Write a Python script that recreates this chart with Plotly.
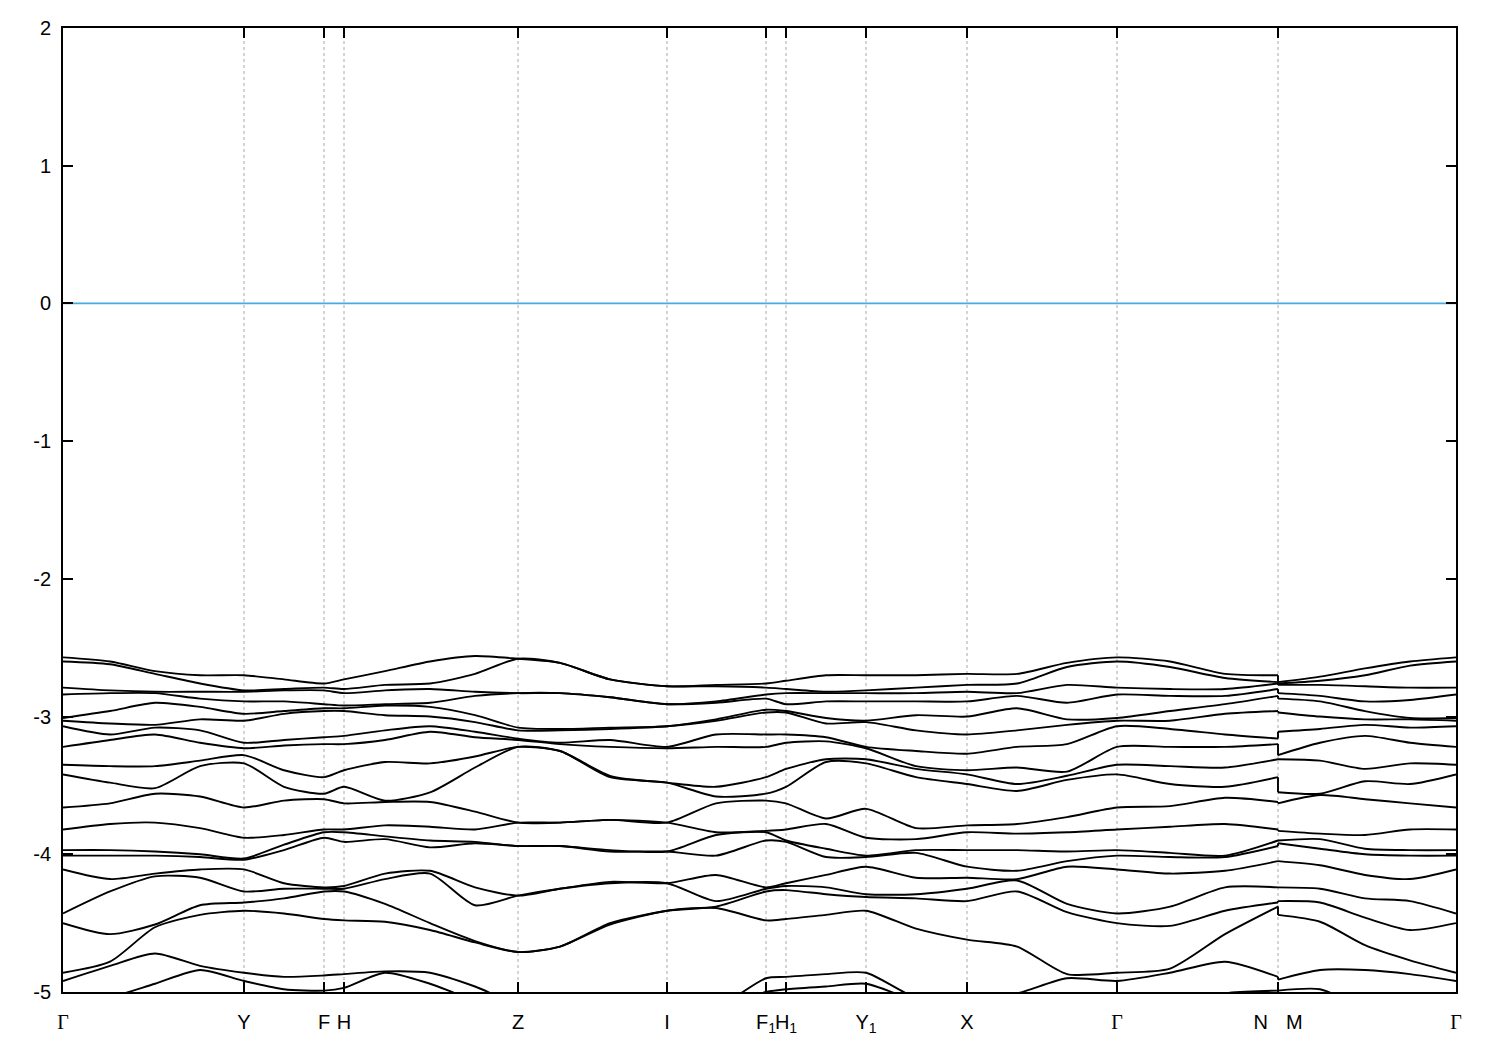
import plotly.graph_objects as go

# k-path sample positions (arbitrary units along the path)
k_path = [0.000, 0.047, 0.092, 0.137, 0.181, 0.221, 0.261, 0.281, 0.322, 0.367,
          0.412, 0.455, 0.497, 0.547, 0.604, 0.653, 0.703, 0.723, 0.763, 0.803,
          0.853, 0.904, 0.954, 1.004, 1.054, 1.107, 1.162, 1.215, 1.215, 1.257,
          1.302, 1.347, 1.393]
break_index = 27  # N | M discontinuity (samples 27 and 28 share the same k)

# high-symmetry labels
sym_k = [0.000, 0.181, 0.261, 0.281, 0.455, 0.604, 0.703, 0.723, 0.803, 0.904, 1.054, 1.215, 1.393]
sym_labels = ["Γ", "Y", "F", "H", "Z", "I", "F<sub>1</sub>", "H<sub>1</sub>",
              "Y<sub>1</sub>", "X", "Γ", "N\u2002\u2009\u2009M", "Γ"]

# band energies (eV) at each k sample, ordered from highest to lowest
e_gamma = [-2.57, -2.60, -2.79, -2.84, -3.01, -3.03, -3.07, -3.22, -3.35, -3.42, -3.66,
           -3.82, -3.97, -4.01, -4.11, -4.43, -4.50, -4.86, -4.92, -5.11, -5.13]
e_01 = [-2.60, -2.62, -2.81, -2.83, -2.96, -3.05, -3.13, -3.17, -3.36, -3.48, -3.63,
        -3.78, -3.97, -4.01, -4.18, -4.27, -4.58, -4.78, -4.81, -5.04, -5.11]
e_02 = [-2.67, -2.69, -2.82, -2.83, -2.90, -3.06, -3.08, -3.13, -3.36, -3.52, -3.56,
        -3.77, -3.98, -4.01, -4.14, -4.16, -4.51, -4.53, -4.72, -4.94, -5.11]
e_03 = [-2.70, -2.76, -2.82, -2.87, -2.93, -3.02, -3.10, -3.19, -3.32, -3.36, -3.58,
        -3.81, -4.00, -4.02, -4.11, -4.17, -4.37, -4.44, -4.81, -4.84, -5.11]
e_Y = [-2.70, -2.81, -2.82, -2.89, -2.98, -3.03, -3.19, -3.23, -3.28, -3.34, -3.66,
       -3.88, -4.03, -4.04, -4.11, -4.27, -4.35, -4.41, -4.86, -4.92, -5.11]
e_05 = [-2.73, -2.80, -2.81, -2.89, -2.96, -2.98, -3.17, -3.21, -3.39, -3.51, -3.61,
        -3.86, -3.93, -3.97, -4.21, -4.25, -4.32, -4.43, -4.89, -4.98, -5.11]
e_F = [-2.76, -2.79, -2.81, -2.91, -2.94, -2.96, -3.15, -3.20, -3.44, -3.56, -3.60,
       -3.82, -3.84, -3.88, -4.24, -4.25, -4.27, -4.47, -4.88, -4.99, -5.11]
e_H = [-2.73, -2.80, -2.83, -2.92, -2.94, -2.96, -3.14, -3.20, -3.39, -3.51, -3.63,
       -3.82, -3.84, -3.91, -4.23, -4.25, -4.27, -4.48, -4.87, -4.97, -5.11]
e_08 = [-2.67, -2.77, -2.81, -2.91, -2.92, -2.99, -3.10, -3.17, -3.33, -3.61, -3.62,
        -3.79, -3.87, -3.89, -4.14, -4.18, -4.36, -4.49, -4.85, -4.86, -5.11]
e_09 = [-2.60, -2.76, -2.80, -2.90, -2.93, -3.00, -3.07, -3.11, -3.34, -3.55, -3.62,
        -3.80, -3.90, -3.95, -4.12, -4.14, -4.50, -4.55, -4.86, -4.94, -5.11]
e_10 = [-2.56, -2.69, -2.82, -2.85, -2.99, -3.04, -3.11, -3.15, -3.29, -3.37, -3.69,
        -3.82, -3.91, -3.92, -4.24, -4.37, -4.63, -4.64, -4.96, -5.06, -5.11]
e_Z = [-2.58, -2.58, -2.83, -2.83, -3.08, -3.10, -3.16, -3.17, -3.22, -3.22, -3.77,
       -3.77, -3.94, -3.94, -4.30, -4.30, -4.71, -4.71, -5.09, -5.10, -5.11]
e_12 = [-2.61, -2.61, -2.83, -2.83, -3.09, -3.10, -3.19, -3.20, -3.25, -3.25, -3.77,
        -3.77, -3.94, -3.94, -4.25, -4.25, -4.67, -4.67, -5.11, -5.11, -5.13]
e_13 = [-2.73, -2.73, -2.86, -2.86, -3.08, -3.09, -3.17, -3.22, -3.43, -3.44, -3.75,
        -3.75, -3.97, -3.98, -4.20, -4.21, -4.50, -4.51, -5.11, -5.11, -5.13]
e_I = [-2.78, -2.78, -2.91, -2.91, -3.07, -3.07, -3.22, -3.23, -3.48, -3.48, -3.77,
       -3.77, -3.98, -3.98, -4.21, -4.21, -4.41, -4.41, -5.11, -5.11, -5.13]
e_15 = [-2.77, -2.78, -2.89, -2.90, -3.02, -3.03, -3.13, -3.22, -3.51, -3.58, -3.63,
        -3.84, -3.86, -4.01, -4.15, -4.34, -4.38, -4.39, -5.11, -5.11, -5.13]
e_F1 = [-2.76, -2.79, -2.84, -2.87, -2.95, -2.97, -3.13, -3.22, -3.44, -3.56, -3.61,
        -3.83, -3.84, -3.90, -4.24, -4.25, -4.27, -4.48, -4.90, -5.00, -5.11]
e_H1 = [-2.74, -2.80, -2.83, -2.91, -2.96, -2.97, -3.13, -3.19, -3.38, -3.51, -3.63,
        -3.82, -3.90, -3.91, -4.21, -4.23, -4.26, -4.47, -4.89, -4.98, -5.11]
e_18 = [-2.70, -2.82, -2.83, -2.89, -3.01, -3.05, -3.15, -3.18, -3.31, -3.33, -3.74,
        -3.78, -3.96, -4.02, -4.15, -4.24, -4.29, -4.44, -4.87, -4.96, -5.11]
e_Y1 = [-2.70, -2.81, -2.83, -2.89, -3.03, -3.04, -3.22, -3.23, -3.31, -3.34, -3.67,
        -3.88, -4.01, -4.02, -4.09, -4.29, -4.31, -4.41, -4.86, -4.94, -5.11]
e_20 = [-2.70, -2.79, -2.83, -2.89, -2.99, -3.10, -3.25, -3.36, -3.38, -3.44, -3.81,
        -3.89, -3.97, -3.99, -4.17, -4.29, -4.32, -4.54, -5.04, -5.06, -5.11]
e_X = [-2.69, -2.77, -2.82, -2.89, -3.00, -3.13, -3.27, -3.39, -3.42, -3.49, -3.79,
       -3.84, -3.97, -4.09, -4.17, -4.25, -4.34, -4.62, -5.06, -5.08, -5.11]
e_22 = [-2.69, -2.76, -2.83, -2.85, -2.94, -3.10, -3.22, -3.37, -3.49, -3.54, -3.78,
        -3.85, -3.97, -4.12, -4.18, -4.19, -4.27, -4.67, -5.01, -5.11, -5.12]
e_23 = [-2.61, -2.64, -2.77, -2.90, -3.02, -3.06, -3.20, -3.40, -3.43, -3.46, -3.73,
        -3.84, -3.98, -4.05, -4.09, -4.36, -4.42, -4.87, -4.90, -5.11, -5.12]
e_25 = [-2.60, -2.64, -2.80, -2.85, -2.96, -3.03, -3.09, -3.22, -3.36, -3.49, -3.65,
        -3.80, -3.99, -4.02, -4.14, -4.38, -4.52, -4.83, -4.86, -5.11, -5.12]
e_26 = [-2.69, -2.72, -2.80, -2.85, -2.91, -2.98, -3.13, -3.22, -3.37, -3.51, -3.59,
        -3.78, -4.01, -4.02, -4.12, -4.24, -4.41, -4.58, -4.78, -5.01, -5.11]
e_N = [-2.70, -2.75, -2.76, -2.80, -2.85, -2.96, -3.16, -3.20, -3.31, -3.44, -3.62,
       -3.82, -3.90, -3.94, -4.05, -4.24, -4.35, -4.38, -4.89, -4.99, -5.11]
e_M = [-2.75, -2.76, -2.77, -2.83, -2.87, -2.97, -3.11, -3.28, -3.31, -3.55, -3.63,
       -3.83, -3.90, -3.92, -4.05, -4.24, -4.34, -4.44, -4.91, -4.99, -5.11]
e_29 = [-2.71, -2.74, -2.77, -2.85, -2.89, -3.00, -3.09, -3.19, -3.32, -3.56, -3.57,
        -3.85, -3.89, -3.96, -4.08, -4.25, -4.35, -4.49, -4.84, -4.98, -5.11]
e_30 = [-2.65, -2.70, -2.78, -2.89, -2.96, -3.02, -3.06, -3.14, -3.38, -3.47, -3.60,
        -3.86, -3.96, -4.00, -4.15, -4.32, -4.46, -4.66, -4.84, -5.11, -5.12]
e_31 = [-2.60, -2.63, -2.79, -2.88, -3.01, -3.02, -3.08, -3.19, -3.34, -3.49, -3.63,
        -3.82, -3.97, -4.01, -4.18, -4.34, -4.55, -4.77, -4.87, -5.11, -5.12]

energy_columns = [e_gamma, e_01, e_02, e_03, e_Y, e_05, e_F, e_H, e_08, e_09, e_10,
                  e_Z, e_12, e_13, e_I, e_15, e_F1, e_H1, e_18, e_Y1, e_20, e_X,
                  e_22, e_23, e_gamma, e_25, e_26, e_N, e_M, e_29, e_30, e_31, e_gamma]

fermi_level = 0.0
y_ticks = [2, 1, 0, -1, -2, -3, -4, -5]

n_bands = len(e_gamma)
fig = go.Figure()

line_style = dict(color="black", width=1.9)
for b in range(n_bands):
    band = [col[b] for col in energy_columns]
    # segment before the discontinuity
    fig.add_trace(go.Scatter(x=k_path[:break_index + 1], y=band[:break_index + 1],
                             mode="lines", line=dict(shape="spline", smoothing=0.7, **line_style),
                             hoverinfo="skip", showlegend=False))
    # vertical connector at N|M
    fig.add_trace(go.Scatter(x=k_path[break_index:break_index + 2],
                             y=band[break_index:break_index + 2],
                             mode="lines", line=line_style, hoverinfo="skip", showlegend=False))
    # segment after the discontinuity
    fig.add_trace(go.Scatter(x=k_path[break_index + 1:], y=band[break_index + 1:],
                             mode="lines", line=dict(shape="spline", smoothing=0.7, **line_style),
                             hoverinfo="skip", showlegend=False))

# Fermi level
fig.add_trace(go.Scatter(x=[k_path[0], k_path[-1]], y=[fermi_level, fermi_level],
                         mode="lines", line=dict(color="#45abe0", width=1.8),
                         hoverinfo="skip", showlegend=False))

# vertical dashed lines at high-symmetry points (interior ones)
for kv in sym_k[1:-1]:
    fig.add_shape(type="line", x0=kv, x1=kv, y0=0, y1=1, xref="x", yref="paper",
                  line=dict(color="#a8a8a8", width=1, dash="3px,3px"), layer="below")

ticktext = []
for lab in sym_labels:
    if lab == "Γ":
        ticktext.append('<span style="font-family:\'Liberation Serif\', serif">Γ</span>')
    else:
        ticktext.append(lab)

fig.update_layout(
    width=1484, height=1034,
    margin=dict(l=55, r=36, t=20, b=50),
    paper_bgcolor="white", plot_bgcolor="white",
    font=dict(family="Liberation Sans, Arial, sans-serif", size=20, color="black"),
    showlegend=False,
)
fig.update_xaxes(
    range=[k_path[0], k_path[-1]], tickmode="array", tickvals=sym_k, ticktext=ticktext,
    tickangle=0, ticks="inside", ticklen=10, tickwidth=1.5, tickcolor="black",
    showline=True, linecolor="black", linewidth=1.8, mirror="ticks",
    showgrid=False, zeroline=False, ticklabelstandoff=11, automargin=False,
)
fig.update_yaxes(
    range=[-5, 2], tickmode="array", tickvals=y_ticks, ticktext=[str(v) for v in y_ticks],
    ticks="inside", ticklen=10, tickwidth=1.5, tickcolor="black",
    showline=True, linecolor="black", linewidth=1.8, mirror="ticks",
    showgrid=False, zeroline=False, ticklabelstandoff=6, automargin=False,
)

fig.write_html("out.html")
